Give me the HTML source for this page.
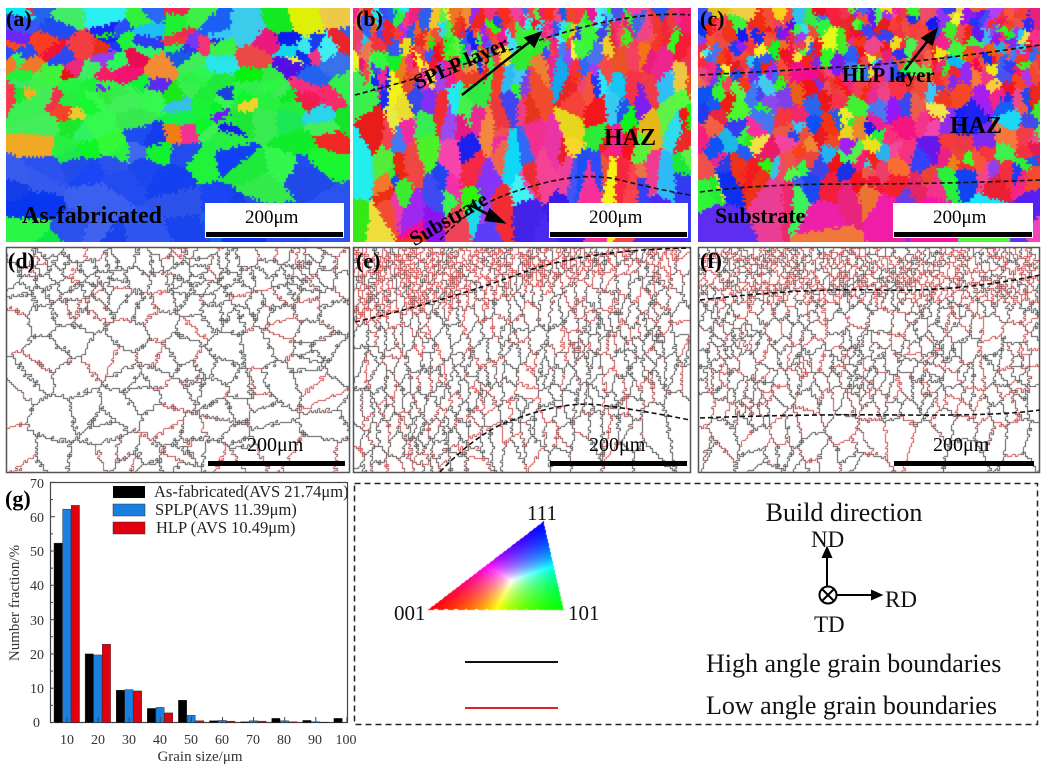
<!DOCTYPE html>
<html><head><meta charset="utf-8"><style>
body{margin:0;width:1046px;height:768px;background:#fff;overflow:hidden;position:relative;font-family:"Liberation Serif",serif}
canvas{position:absolute}
.t{position:absolute;white-space:nowrap;color:#000}
.b{font-weight:bold}
.sb{position:absolute;background:#fff}
.bar{position:absolute;background:#000;height:5px}
</style></head><body>
<canvas id="ca" width="344" height="234" style="left:6px;top:8px"></canvas>
<canvas id="cb" width="338" height="234" style="left:353px;top:8px"></canvas>
<canvas id="cc" width="342" height="234" style="left:698px;top:8px"></canvas>
<canvas id="cd" width="344" height="226" style="left:6px;top:247px"></canvas>
<canvas id="ce" width="338" height="226" style="left:353px;top:247px"></canvas>
<canvas id="cf" width="342" height="226" style="left:698px;top:247px"></canvas>
<canvas id="ipf" width="150" height="100" style="left:420px;top:515px"></canvas>

<div class="sb" style="left:205px;top:203px;width:139px;height:35px"></div>
<div class="sb" style="left:549px;top:203px;width:139px;height:35px"></div>
<div class="sb" style="left:893px;top:203px;width:140px;height:35px"></div>

<svg width="1046" height="768" style="position:absolute;left:0;top:0">
<g fill="none" stroke="#555" stroke-width="1.5">
<rect x="6.5" y="247.5" width="343" height="225"/>
<rect x="353.5" y="247.5" width="337" height="225"/>
<rect x="698.5" y="247.5" width="341" height="225"/>
</g>
<g fill="none" stroke="#111" stroke-width="1.6" stroke-dasharray="5,3">
<path d="M355,95 Q450,70 540,40 T690,15"/>
<path d="M440,240 Q470,205 520,190 Q580,170 620,180 T690,195"/>
<path d="M700,75 Q800,70 870,65 T1040,45"/>
<path d="M700,192 Q760,184 850,184 T1040,180"/>
<path d="M355,322 Q450,300 530,270 Q590,250 690,248"/>
<path d="M440,472 Q470,440 500,425 Q560,400 600,405 T690,420"/>
<path d="M700,300 Q800,288 880,290 T1040,275"/>
<path d="M700,418 Q800,414 900,415 T1040,410"/>
</g>
<g stroke="#000" stroke-width="2.5" fill="#000">
<line x1="462" y1="95" x2="532" y2="40"/><polygon points="540,33 526,38 534,46"/>
<line x1="470" y1="205" x2="495" y2="218"/><polygon points="503,222 490,210 486,220"/>
<line x1="905" y1="70" x2="930" y2="38"/><polygon points="936,30 923,38 932,44"/>
</g>
<rect x="354.5" y="483.5" width="683" height="241" fill="none" stroke="#222" stroke-width="1.5" stroke-dasharray="6,4"/>
<!-- chart -->
<g font-family="Liberation Serif,serif" font-size="14" fill="#333">
<rect x="50.5" y="482.5" width="297" height="240" fill="none" stroke="#444" stroke-width="1.2"/>
<g id="bars"></g>
<g id="ticks" stroke="#444"></g>
<text x="40" y="727" text-anchor="end">0</text>
<text x="44" y="693" text-anchor="end">10</text>
<text x="44" y="659" text-anchor="end">20</text>
<text x="44" y="625" text-anchor="end">30</text>
<text x="44" y="590" text-anchor="end">40</text>
<text x="44" y="556" text-anchor="end">50</text>
<text x="44" y="522" text-anchor="end">60</text>
<text x="44" y="488" text-anchor="end">70</text>
<g text-anchor="middle">
<text x="67" y="744">10</text><text x="98" y="744">20</text><text x="129" y="744">30</text><text x="160" y="744">40</text><text x="191" y="744">50</text><text x="222" y="744">60</text><text x="253" y="744">70</text><text x="284" y="744">80</text><text x="315" y="744">90</text><text x="346" y="744">100</text>
<text x="200" y="761" font-size="15">Grain size/μm</text>
<text transform="translate(19,603) rotate(-90)" font-size="15">Number fraction/%</text>
</g>
<rect x="113" y="486" width="32" height="12" fill="#000"/>
<rect x="113" y="504" width="32" height="12" fill="#1a7fe0" stroke="#333" stroke-width=".5"/>
<rect x="113" y="522" width="32" height="12" fill="#e00010" stroke="#333" stroke-width=".5"/>
<g font-size="16.5" fill="#222">
<text x="154" y="497">As-fabricated(AVS 21.74μm)</text>
<text x="155" y="515">SPLP(AVS 11.39μm)</text>
<text x="156" y="533">HLP (AVS 10.49μm)</text>
</g>
</g>
<text x="5" y="506" font-family="Liberation Serif,serif" font-weight="bold" font-size="22">(g)</text>
<!-- legend box content -->
<g font-family="Liberation Serif,serif" fill="#111">
<text x="527" y="520" font-size="21">111</text>
<text x="394" y="620" font-size="21">001</text>
<text x="568" y="620" font-size="21">101</text>
<text x="844" y="521" font-size="26" text-anchor="middle">Build direction</text>
<text x="811" y="547" font-size="23">ND</text>
<text x="885" y="607" font-size="23">RD</text>
<text x="814" y="632" font-size="23">TD</text>
<text x="706" y="672" font-size="26">High angle grain boundaries</text>
<text x="706" y="714" font-size="26">Low angle grain boundaries</text>
</g>
<g stroke="#000" stroke-width="2" fill="#000">
<line x1="827" y1="586" x2="827" y2="556"/><polygon points="827,548 823,557 831,557"/>
<circle cx="828" cy="595" r="8.5" fill="none"/>
<line x1="822" y1="589" x2="834" y2="601"/><line x1="834" y1="589" x2="822" y2="601"/>
<line x1="837" y1="595" x2="873" y2="595"/><polygon points="881,595 872,591 872,599"/>
</g>
<line x1="465" y1="662" x2="558" y2="662" stroke="#111" stroke-width="2"/>
<line x1="465" y1="708" x2="558" y2="708" stroke="#e0202a" stroke-width="2"/>
</svg>

<div class="bar" style="left:206px;top:232px;width:137px"></div>
<div class="bar" style="left:550px;top:232px;width:137px"></div>
<div class="bar" style="left:894px;top:232px;width:138px"></div>
<div class="bar" style="left:208px;top:461px;width:137px"></div>
<div class="bar" style="left:550px;top:461px;width:137px"></div>
<div class="bar" style="left:894px;top:461px;width:140px"></div>
<div class="t" style="left:245px;top:207px;font-size:19px">200μm</div>
<div class="t" style="left:589px;top:207px;font-size:19px">200μm</div>
<div class="t" style="left:933px;top:207px;font-size:19px">200μm</div>
<div class="t" style="left:247px;top:434px;font-size:20px">200μm</div>
<div class="t" style="left:589px;top:434px;font-size:20px">200μm</div>
<div class="t" style="left:933px;top:434px;font-size:20px">200μm</div>
<div class="t b" style="left:6px;top:6px;font-size:22px">(a)</div>
<div class="t b" style="left:356px;top:6px;font-size:22px">(b)</div>
<div class="t b" style="left:700px;top:6px;font-size:22px">(c)</div>
<div class="t b" style="left:8px;top:248px;font-size:22px">(d)</div>
<div class="t b" style="left:356px;top:248px;font-size:22px">(e)</div>
<div class="t b" style="left:700px;top:248px;font-size:22px">(f)</div>
<div class="t b" style="left:22px;top:203px;font-size:24px">As-fabricated</div>
<div class="t b" style="left:420px;top:70px;font-size:21px;transform:rotate(-24deg);transform-origin:left bottom">SPLP layer</div>
<div class="t b" style="left:604px;top:125px;font-size:24px">HAZ</div>
<div class="t b" style="left:405px;top:230px;font-size:21px;transform:rotate(-30deg);transform-origin:left top">Substrate</div>
<div class="t b" style="left:842px;top:63px;font-size:21px">HLP layer</div>
<div class="t b" style="left:950px;top:113px;font-size:24px">HAZ</div>
<div class="t b" style="left:715px;top:203px;font-size:22px">Substrate</div>

<script>
function R(s){return function(){s=(s*1664525+1013904223)>>>0;return s/4294967296}}
function hsl(h,s,l){h=(h+360)%360;s/=100;l/=100;var k=n=>(n+h/30)%12,a=s*Math.min(l,1-l),f=n=>l-a*Math.max(-1,Math.min(k(n)-3,Math.min(9-k(n),1)));return[255*f(0),255*f(8),255*f(4)]}
function seeds(w,h,n,dens,r){var a=[];var t=0;while(a.length<n&&t<n*50){t++;var x=r()*w,y=r()*h;if(r()<dens(x,y))a.push({x:x,y:y})}return a}
function label(w,h,S,st,ay,jit,r){var W=Math.ceil(w/st),H=Math.ceil(h/st),L=new Int32Array(W*H);
for(var j=0;j<H;j++)for(var i=0;i<W;i++){var x=i*st+(r()-.5)*jit,y=j*st+(r()-.5)*jit,b=1e18,bi=0;
for(var k=0;k<S.length;k++){var dx=x-S[k].x,dy=(y-S[k].y)*ay,d=dx*dx+dy*dy;if(d<b){b=d;bi=k}}L[j*W+i]=bi}return{L:L,W:W,H:H}}
function colorMap(id,S,st,ay,jit,seed){var c=document.getElementById(id),w=c.width,h=c.height,ctx=c.getContext('2d'),r=R(seed);
var m=label(w,h,S,st,ay,jit,r),im=ctx.createImageData(w,h);
for(var y=0;y<h;y++)for(var x=0;x<w;x++){var s=S[m.L[Math.floor(y/st)*m.W+Math.floor(x/st)]].c,p=(y*w+x)*4;im.data[p]=s[0];im.data[p+1]=s[1];im.data[p+2]=s[2];im.data[p+3]=255}
ctx.putImageData(im,0,0)}
function bMap(id,S,st,ay,jit,seed,redp){var c=document.getElementById(id),w=c.width,h=c.height,ctx=c.getContext('2d'),r=R(seed);
var m=label(w,h,S,st,ay,jit,r);ctx.fillStyle='#fff';ctx.fillRect(0,0,w,h);
for(var j=0;j<m.H;j++)for(var i=0;i<m.W;i++){var a=m.L[j*m.W+i];
if(i+1<m.W){var b=m.L[j*m.W+i+1];if(a!=b){ctx.fillStyle=((a*7+b*13)%100<redp(i*st,j*st))?'#d05050':'#555';ctx.fillRect(i*st+st-1,j*st,1,st)}}
if(j+1<m.H){var b=m.L[(j+1)*m.W+i];if(a!=b){ctx.fillStyle=((a*7+b*13)%100<redp(i*st,j*st))?'#d05050':'#555';ctx.fillRect(i*st,j*st+st-1,st,1)}}}}
function pickHue(r,ws){var t=r()*ws.reduce((a,b)=>a+b[1],0);for(var i=0;i<ws.length;i++){t-=ws[i][1];if(t<=0)return ws[i][0]+ (r()-.5)*20}return 0}
// panel a
(function(){var r=R(11),w=344,h=234;var S=seeds(w,h,200,(x,y)=>y<h*.4?1:(y<h*.7?.5:.2),r);
S.forEach(s=>{var hue;if(s.y>h*.62&&r()<.75)hue=228;else if(s.y>h*.3&&r()<.5)hue=128;else hue=pickHue(r,[[128,4],[230,3],[0,1.5],[340,1],[190,1],[55,.7],[265,1],[30,.5]]);
s.c=hsl(hue,80+r()*15,48+r()*12)});colorMap('ca',S,2,1.3,4,3);
var r2=R(5),S2=seeds(w,226,200,(x,y)=>y<60?1:.35,r2);bMap('cd',S2,2,1.1,5,7,()=>18)})();
// panel b
(function(){var r=R(21),w=338,h=234;var top=x=>87-x*.22,bot=x=>x<90?999:(x<200?232-(x-90)*.5:175);
var S=seeds(w,h,320,(x,y)=>y<top(x)?1:(y>bot(x)?.03:.25),r);
S.forEach(s=>{var hue=pickHue(r,[[0,3],[330,2],[120,2],[230,1.5],[270,1],[55,.8],[190,1],[20,.6]]);
if(s.y>bot(s.x))hue=250;s.c=hsl(hue,80+r()*15,50+r()*12)});colorMap('cb',S,2,.5,4,9);
var r2=R(31),S2=seeds(w,226,650,(x,y)=>y<(75-x*.22)?1:(y>(x<90?999:225-(x-90)*.35)?.05:.2),r2);
bMap('ce',S2,2,.5,4,13,(x,y)=>y<(80-x*.2)?70:30)})();
// panel c
(function(){var r=R(41),w=342,h=234;
var S=seeds(w,h,450,(x,y)=>y<68?1:(y>182?.1:.45),r);
S.forEach(s=>{var hue=pickHue(r,[[0,3.5],[335,1.5],[120,1.5],[230,2],[270,1],[55,.6],[190,.6],[20,.5]]);
if(s.y>182&&r()<.6)hue=r()<.5?255:320;s.c=hsl(hue,80+r()*15,50+r()*12)});colorMap('cc',S,2,.8,4,19);
var r2=R(51),S2=seeds(w,226,650,(x,y)=>y<50?1:(y>168?.1:.3),r2);
bMap('cf',S2,2,.7,4,17,(x,y)=>y<55?60:30)})();
// IPF triangle
(function(){var c=document.getElementById('ipf'),ctx=c.getContext('2d'),im=ctx.createImageData(150,100);
var A=[8,94],B=[143,94],C=[123,6];
for(var y=0;y<100;y++)for(var x=0;x<150;x++){var d=(B[1]-C[1])*(A[0]-C[0])+(C[0]-B[0])*(A[1]-C[1]);
var l1=((B[1]-C[1])*(x-C[0])+(C[0]-B[0])*(y-C[1]))/d,l2=((C[1]-A[1])*(x-C[0])+(A[0]-C[0])*(y-C[1]))/d,l3=1-l1-l2;
var inside=l1>=0&&l2>=0&&l3>=0;
if(!inside)continue;var p=(y*150+x)*4;l1=Math.max(l1,0);l2=Math.max(l2,0);l3=Math.max(l3,0);var m=Math.max(l1,l2,l3);
im.data[p]=255*l1/m;im.data[p+1]=255*l2/m;im.data[p+2]=255*l3/m;im.data[p+3]=255}ctx.putImageData(im,0,0)})();
// bars
(function(){var D=[[52.3,62.2,63.3],[20,19.7,22.8],[9.4,9.6,9.2],[4.1,4.4,2.8],[6.5,2.1,.5],[.5,.6,.4],[.2,.5,.4],[1.2,.5,.2],[.6,.2,.1],[1.2,0,0]],col=['#000','#1a7fe0','#e00010'],s='';
D.forEach((g,i)=>{var cx=67+i*31.1;g.forEach((v,k)=>{var hh=v*3.43;s+='<rect x="'+(cx-13+k*8.6)+'" y="'+(722.5-hh)+'" width="8.3" height="'+hh+'" fill="'+col[k]+'" stroke="#222" stroke-width=".4"/>'})});
document.getElementById('bars').innerHTML=s;var t='';for(var v=0;v<=70;v+=5){var y=722.5-v*3.43;t+='<line x1="50" x2="'+(v%10?53:55)+'" y1="'+y+'" y2="'+y+'"/>'}
for(var i=0;i<10;i++){var x=67+i*31.1;t+='<line x1="'+x+'" x2="'+x+'" y1="722" y2="717"/>'}document.getElementById('ticks').innerHTML=t})();
</script>
</body></html>
